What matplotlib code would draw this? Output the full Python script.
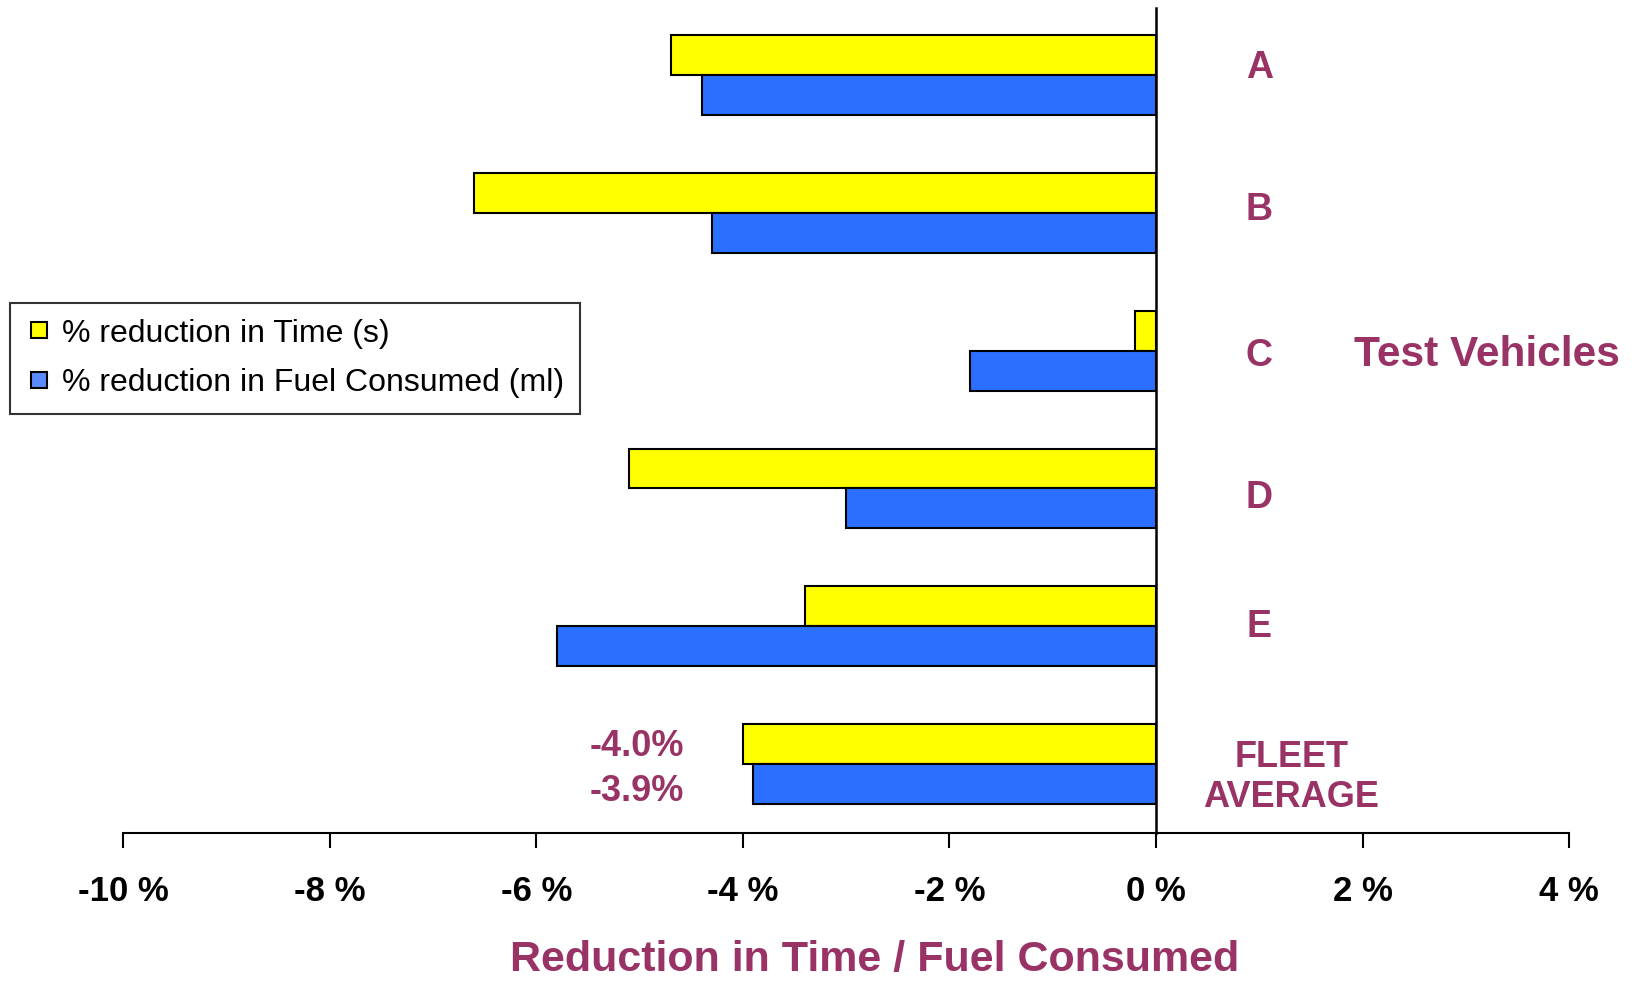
import matplotlib
matplotlib.use('Agg')
import matplotlib.pyplot as plt
from matplotlib.lines import Line2D
import numpy as np

# ==================================================
#   Data
vehicles = ['A', 'B', 'C', 'D', 'E', 'FLEET\nAVERAGE']
time_red = [-4.7, -6.6, -0.2, -5.1, -3.4, -4.0]
fuel_red = [-4.4, -4.3, -1.8, -3.0, -5.8, -3.9]
xticks = [-10, -8, -6, -4, -2, 0, 2, 4]
series_names = ['% reduction in Time (s)', '% reduction in Fuel Consumed (ml)']

# ==================================================
plt.rcParams['font.family'] = ['Liberation Sans', 'DejaVu Sans']
maroon = '#993366'
yellow = '#FFFF00'
blue = '#2B6FFF'

fig = plt.figure(figsize=(16.37, 9.81), dpi=100)
ax = fig.add_axes([0.0753, 0.151, 0.8832, 0.8405])

pos = np.arange(len(vehicles))
h = 0.29
ax.barh(pos - h / 2, time_red, height=h, color=yellow, edgecolor='black', linewidth=1.5)
ax.barh(pos + h / 2, fuel_red, height=h, color=blue, edgecolor='black', linewidth=1.5)

ax.set_xlim(-10, 4)
ax.set_ylim(5.5, -0.485)

# axes lines
for s in ['top', 'right']:
    ax.spines[s].set_visible(False)
ax.spines['left'].set_position(('data', 0))
ax.spines['left'].set_linewidth(1.8)
ax.spines['bottom'].set_linewidth(1.5)
ax.set_yticks([])
ax.set_xticks(xticks)
ax.set_xticklabels([str(t) + ' %' for t in xticks], fontsize=25, fontweight='bold')
ax.tick_params(axis='x', direction='out', length=11, width=1.5, pad=19)

# category labels
shift = [-0.055, -0.02, 0.04, 0.07, 0.005]
for i, name in enumerate(vehicles[:-1]):
    ax.text(1.0, pos[i] + shift[i], name, color=maroon, fontsize=27, fontweight='bold',
            ha='center', va='center')
ax.text(1.31, pos[-1] + 0.1, vehicles[-1], color=maroon, fontsize=26, fontweight='bold',
        ha='center', va='center', linespacing=1.2)
ax.text(3.2, 2.03, 'Test Vehicles', color=maroon, fontsize=30.5, fontweight='bold',
        ha='center', va='center', clip_on=False)

# fleet value labels
ax.text(-4.57, pos[-1] - 0.13, '%.1f%%' % time_red[-1], color=maroon, fontsize=26,
        fontweight='bold', ha='right', va='center')
ax.text(-4.57, pos[-1] + 0.2, '%.1f%%' % fuel_red[-1], color=maroon, fontsize=26,
        fontweight='bold', ha='right', va='center')

fig.text(0.534, 0.001, 'Reduction in Time / Fuel Consumed', color=maroon, fontsize=31,
         fontweight='bold', ha='center', va='bottom')

# legend
handles = [Line2D([], [], marker='s', linestyle='none', markersize=11,
                  markerfacecolor=yellow, markeredgecolor='black', markeredgewidth=1.5),
           Line2D([], [], marker='s', linestyle='none', markersize=11,
                  markerfacecolor='#5B8CFF', markeredgecolor='black', markeredgewidth=1.5)]
leg = fig.legend(handles, series_names, loc='upper left', bbox_to_anchor=(0.0064, 0.6915),
                 fontsize=23, frameon=True, fancybox=False, handlelength=0.8,
                 handletextpad=0.3, borderpad=0.5, labelspacing=0.6, borderaxespad=0)
leg.get_frame().set_edgecolor('black')
leg.get_frame().set_linewidth(1.5)

plt.savefig('out.png', dpi=100)
